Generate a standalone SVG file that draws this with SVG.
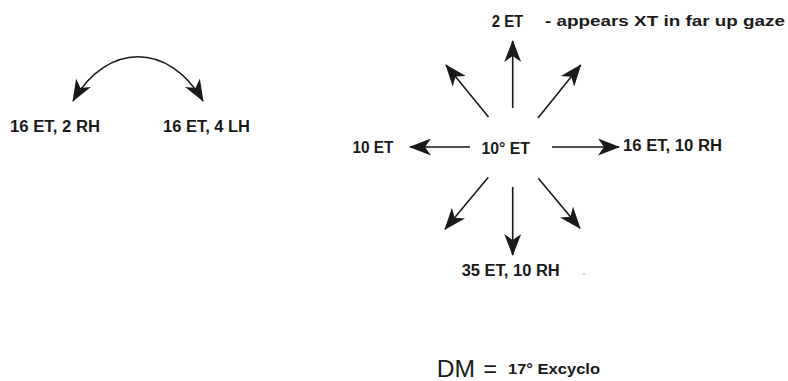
<svg xmlns="http://www.w3.org/2000/svg" width="788" height="381" viewBox="0 0 788 381">
<style>
text{font-family:"Liberation Sans",Arial,sans-serif;font-weight:bold;fill:#1a1a1a}
.lbl{font-size:16px}
.ln{stroke:#1a1a1a;stroke-width:1.6;fill:none}
</style>
<defs>
<marker id="ah" viewBox="0 0 22 17" refX="21" refY="8.5" markerWidth="22" markerHeight="17" markerUnits="userSpaceOnUse" orient="auto-start-reverse">
<path d="M0,0 L22,8.5 L0,17 L6,8.5 Z" fill="#1a1a1a"/>
</marker>
</defs>
<rect width="788" height="381" fill="#fff"/>
<g id="connectors">
<path class="ln" d="M73,101 C107,42 169,42 203,101" marker-start="url(#ah)" marker-end="url(#ah)"/>
<line class="ln" x1="470" y1="147" x2="410" y2="147" marker-end="url(#ah)"/>
<line class="ln" x1="552" y1="147" x2="619" y2="147" marker-end="url(#ah)"/>
<line class="ln" x1="512.7" y1="108" x2="512.7" y2="41" marker-end="url(#ah)"/>
<line class="ln" x1="488.5" y1="117" x2="446" y2="65" marker-end="url(#ah)"/>
<line class="ln" x1="538" y1="118" x2="580.7" y2="65" marker-end="url(#ah)"/>
<line class="ln" x1="488.3" y1="177.3" x2="445" y2="229.3" marker-end="url(#ah)"/>
<line class="ln" x1="512.7" y1="187" x2="512.7" y2="255" marker-end="url(#ah)"/>
<line class="ln" x1="538.3" y1="178.3" x2="580" y2="228.3" marker-end="url(#ah)"/>
</g>
<g id="left-rh"><text class="lbl" x="10" y="131.5" textLength="90" lengthAdjust="spacingAndGlyphs">16 ET, 2 RH</text></g>
<g id="left-lh"><text class="lbl" x="163" y="131.5" textLength="87" lengthAdjust="spacingAndGlyphs">16 ET, 4 LH</text></g>
<g id="center"><text class="lbl" x="481.5" y="154" textLength="48.5" lengthAdjust="spacingAndGlyphs">10° ET</text></g>
<g id="left"><text class="lbl" x="352.5" y="153" textLength="41" lengthAdjust="spacingAndGlyphs">10 ET</text></g>
<g id="right"><text class="lbl" x="623" y="150.7" textLength="99" lengthAdjust="spacingAndGlyphs">16 ET, 10 RH</text></g>
<g id="up"><text class="lbl" x="491.7" y="26.7" textLength="31.5" lengthAdjust="spacingAndGlyphs">2 ET</text><text x="545" y="25.5" style="font-size:15px" textLength="240" lengthAdjust="spacingAndGlyphs">- appears XT in far up gaze</text></g>
<g id="down"><text class="lbl" x="461.7" y="276" textLength="98" lengthAdjust="spacingAndGlyphs">35 ET, 10 RH</text></g>
<circle cx="584" cy="274" r="0.7" fill="#888"/>
<g id="dm"><text x="436.7" y="377" style="font-size:24px;font-weight:normal" textLength="38.3" lengthAdjust="spacingAndGlyphs">DM</text><text x="483.5" y="377" style="font-size:24px;font-weight:normal" textLength="13.5" lengthAdjust="spacingAndGlyphs">=</text><text x="508" y="374.3" style="font-size:14.5px" textLength="92" lengthAdjust="spacingAndGlyphs">17° Excyclo</text></g>
</svg>
